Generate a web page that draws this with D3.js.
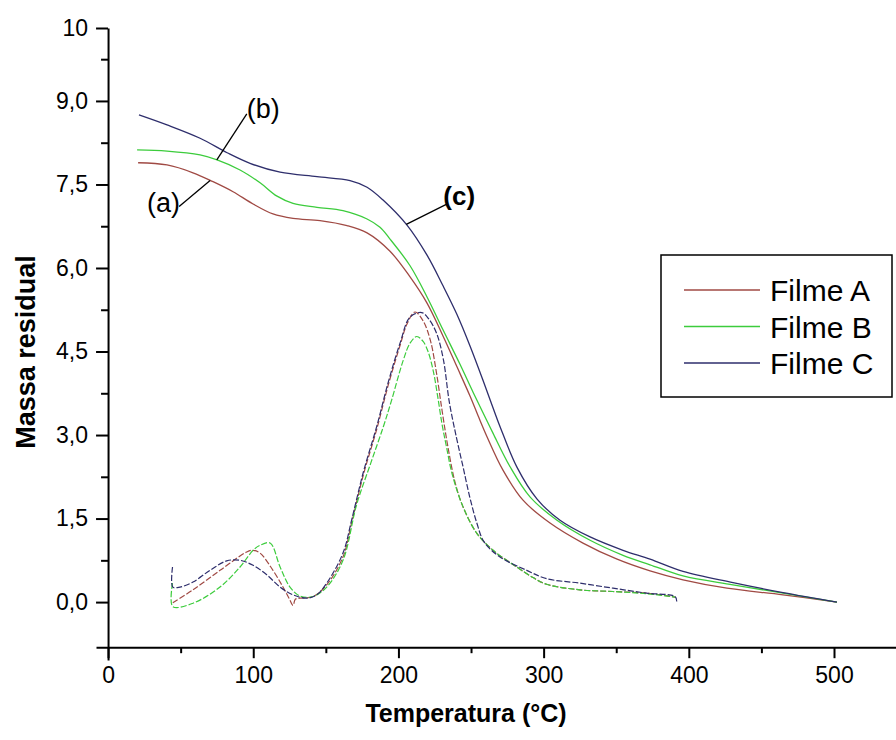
<!DOCTYPE html>
<html>
<head>
<meta charset="utf-8">
<script src="https://cdnjs.cloudflare.com/ajax/libs/d3/7.8.5/d3.min.js"></script>
<style>
  body { margin: 0; background: #fff; }
  text { font-family: "Liberation Sans", Arial, sans-serif; }
</style>
</head>
<body>
<svg id="chart"></svg>
<script>
// series names
const categories = ["Filme A", "Filme B", "Filme C"];

// TG curves (solid): [temperatura, massa]
const tgA = [[20.7,7.89],[40.6,7.85],[58.5,7.71],[72.3,7.55],[86.1,7.37],[99.9,7.15],[113.6,6.97],[127.4,6.89],
  [146,6.85],[164.6,6.76],[178.4,6.63],[194.2,6.30],[208,5.84],[219.7,5.37],[230.7,4.78],[240.4,4.22],[249.3,3.70],
  [254.8,3.35],[261,2.97],[272,2.37],[285.8,1.83],[304.4,1.42],[327.1,1.06],[350.6,0.77],[373.3,0.56],[396,0.40],
  [426.3,0.25],[464.9,0.13],[502,0.0]];
const tgB = [[20,8.12],[40.6,8.10],[63.4,8.03],[75.1,7.94],[90.9,7.76],[104.7,7.53],[116.4,7.29],[127.4,7.16],
  [143.9,7.09],[161.8,7.03],[178.4,6.88],[187.3,6.73],[194.2,6.52],[208,6.04],[219.7,5.48],[230.7,4.89],[242.4,4.27],
  [251.4,3.77],[259.6,3.33],[265.2,3.03],[276.9,2.43],[290.6,1.89],[309.2,1.47],[332,1.11],[354.7,0.84],[373.3,0.67],
  [396,0.47],[430.4,0.31],[464.9,0.16],[502,0.0]];
const tgC = [[21.3,8.75],[40.6,8.57],[63.4,8.33],[82,8.07],[97.8,7.88],[118.5,7.72],[143.9,7.64],[166.7,7.57],
  [178.4,7.45],[189.4,7.22],[205.9,6.77],[219.7,6.23],[230.7,5.68],[240.4,5.16],[249.3,4.60],[258.3,3.98],[265,3.50],
  [270,3.15],[281.7,2.42],[295.5,1.85],[311.3,1.47],[332,1.17],[354.7,0.93],[373.3,0.77],[396,0.55],[430.4,0.35],
  [464.9,0.17],[502,0.0]];

// DTG curves (dashed)
const dtgA = [[44.6,-0.01],[58.5,0.22],[77.1,0.57],[95.5,0.90],[99.9,0.93],[104.7,0.88],[113.6,0.57],[120.5,0.27],
  [125,0.05],[127.4,-0.06],[129,0.05],[132.2,0.07],[141.2,0.10],[150.6,0.31],[161.8,0.81],[168,1.45],[176,2.3],
  [185,3.1],[193,3.9],[201,4.6],[206,5.0],[211.4,5.21],[217,5.05],[222,4.7],[226,4.15],[230,3.45],[234,2.8],
  [239,2.15],[244.5,1.71],[253.9,1.24],[265.2,0.93],[281.5,0.63],[292.7,0.44],[302,0.32],[325,0.22],[347.8,0.19],
  [371,0.16],[390.5,0.09]];
const dtgB = [[44.4,0.34],[44.6,-0.08],[58.5,-0.02],[77.1,0.27],[90.9,0.63],[99.9,0.93],[104.7,1.02],[111.6,1.06],
  [118.5,0.63],[125.3,0.27],[132.2,0.11],[141.2,0.10],[150.6,0.27],[161.8,0.75],[171.2,1.75],[181,2.5],[189.6,3.15],
  [195,3.6],[203.4,4.35],[208,4.65],[212.6,4.77],[217,4.68],[220.4,4.50],[224,4.15],[227,3.7],[230,3.2],[233,2.8],
  [237,2.3],[244.5,1.71],[253.9,1.24],[265.2,0.93],[281.5,0.63],[292.7,0.44],[302,0.32],[325,0.22],[347.8,0.19],
  [371,0.15],[390.5,0.09]];
const dtgC = [[44.4,0.63],[44.6,0.27],[49.6,0.27],[58.5,0.36],[70.2,0.57],[81.7,0.74],[90.9,0.75],[99.9,0.66],
  [109.3,0.49],[118.5,0.27],[127.4,0.13],[136.8,0.07],[143.7,0.13],[150.6,0.34],[161.8,0.88],[168,1.5],[176,2.35],
  [185,3.15],[193,3.95],[201.1,4.65],[208,5.12],[216,5.20],[221,5.08],[226.4,4.82],[231,4.35],[235,3.6],
  [240,2.95],[244.5,2.43],[249,1.9],[254,1.42],[259,1.08],[270,0.81],[288.4,0.57],[302.1,0.42],[325,0.34],
  [347.8,0.25],[371,0.16],[390.5,0.10],[391.7,0.01]];

// axis ticks
const xTicks = [0, 100, 200, 300, 400, 500];
const xMinor = [50, 150, 250, 350, 450];
const yTicks = [0, 1.5, 3, 4.5, 6, 7.5, 9];
const yMinor = [0.75, 2.25, 3.75, 5.25, 6.75, 8.25, 9.75];
const yTopLabel = "10";

// labels on the TG curves
const annotations = [
  { label: "(a)", series: 0, temp: 70.3 },
  { label: "(b)", series: 1, temp: 74.9 },
  { label: "(c)", series: 2, temp: 205.4 }
];

const colors = ["#a04a44", "#3ccc3c", "#2e2e6c"];

const W = 896, H = 740;
const svg = d3.select("#chart").attr("width", W).attr("height", H);

const x = d3.scaleLinear().domain([-8.3, 542.7]).range([96, 896]);
const y = d3.scaleLinear().domain([-1.04, 10.31]).range([660, 28]);
const xAxisY = y(-0.81);
const yAxisX = x(0);

const tg = [tgA, tgB, tgC];
const dtg = [dtgA, dtgB, dtgC];

// curves
const lineTG = d3.line().x(d => x(d[0])).y(d => y(d[1])).curve(d3.curveCatmullRom.alpha(0.5));
const lineDTG = d3.line().x(d => x(d[0])).y(d => y(d[1])).curve(d3.curveCatmullRom.alpha(0.5));

svg.append("g").selectAll("path").data(dtg).enter().append("path")
  .attr("d", lineDTG)
  .attr("fill", "none")
  .attr("stroke", (d, i) => colors[i])
  .attr("stroke-width", 1.2)
  .attr("stroke-dasharray", "6,2");

svg.append("g").selectAll("path").data(tg).enter().append("path")
  .attr("d", lineTG)
  .attr("fill", "none")
  .attr("stroke", (d, i) => colors[i])
  .attr("stroke-width", 1.3);

// axes
function styleAxis(g) {
  g.selectAll("path").attr("stroke", "#000").attr("stroke-width", 2);
  g.selectAll("line").attr("stroke", "#000").attr("stroke-width", 2);
  g.selectAll("text").attr("font-size", 23).attr("fill", "#000")
    .attr("font-family", '"Liberation Sans", Arial, sans-serif');
}

svg.append("g")
  .attr("transform", "translate(0," + xAxisY + ")")
  .call(d3.axisBottom(x).tickValues(xTicks).tickSize(11).tickSizeOuter(0).tickPadding(8).tickFormat(d3.format("d")))
  .call(styleAxis);
svg.append("g")
  .attr("transform", "translate(0," + xAxisY + ")")
  .call(d3.axisBottom(x).tickValues(xMinor).tickSize(6).tickFormat(""))
  .call(g => g.select(".domain").remove())
  .call(styleAxis);

const fmtComma = d => d3.format(".1f")(d).replace(".", ",");
svg.append("g")
  .attr("transform", "translate(" + yAxisX + ",0)")
  .call(d3.axisLeft(y).tickValues(yTicks.concat([y.domain()[1]])).tickSize(12).tickSizeOuter(0).tickPadding(8)
    .tickFormat(d => d === y.domain()[1] ? yTopLabel : fmtComma(d)))
  .call(styleAxis);
svg.append("g")
  .attr("transform", "translate(" + yAxisX + ",0)")
  .call(d3.axisLeft(y).tickValues(yMinor).tickSize(7).tickFormat(""))
  .call(g => g.select(".domain").remove())
  .call(styleAxis);

// axis titles
svg.append("text")
  .attr("x", 466).attr("y", 722)
  .attr("text-anchor", "middle")
  .attr("font-size", 25).attr("font-weight", "bold")
  .text("Temperatura (°C)");
svg.append("text")
  .attr("transform", "translate(35,352)rotate(-90)")
  .attr("text-anchor", "middle")
  .attr("font-size", 27).attr("font-weight", "bold")
  .text("Massa residual");

// curve labels with leader lines
function valueAt(data, t) {
  const i = d3.bisector(d => d[0]).left(data, t);
  const a = data[Math.max(0, i - 1)], b = data[Math.min(data.length - 1, i)];
  if (a === b) return a[1];
  return a[1] + (b[1] - a[1]) * (t - a[0]) / (b[0] - a[0]);
}
const offsets = [[-31, 26], [30, -46], [40, -20]];
annotations.forEach((a, i) => {
  const px = x(a.temp), py = y(valueAt(tg[a.series], a.temp));
  const ex = px + offsets[i][0], ey = py + offsets[i][1];
  svg.append("line")
    .attr("x1", px).attr("y1", py).attr("x2", ex).attr("y2", ey)
    .attr("stroke", "#000").attr("stroke-width", 1.3);
  const t = svg.append("text").attr("font-size", 27).text(a.label);
  if (i === 0) t.attr("x", ex + 1).attr("y", ey + 6).attr("text-anchor", "end");
  else if (i === 1) t.attr("x", ex).attr("y", ey + 4);
  else t.attr("x", ex - 3).attr("y", ey + 1).attr("font-weight", "bold").attr("font-size", 26);
});

// legend
const lg = svg.append("g").attr("transform", "translate(661,255)");
lg.append("rect").attr("width", 231).attr("height", 142)
  .attr("fill", "#fff").attr("stroke", "#000").attr("stroke-width", 1.5);
const rows = lg.selectAll("g.row").data(categories).enter().append("g")
  .attr("transform", (d, i) => "translate(0," + (35 + i * 36.5) + ")");
rows.append("line").attr("x1", 23).attr("x2", 99)
  .attr("stroke", (d, i) => colors[i]).attr("stroke-width", 1.3);
rows.append("text").attr("x", 109).attr("y", 11)
  .attr("font-size", 30).text(d => d);
</script>
</body>
</html>
